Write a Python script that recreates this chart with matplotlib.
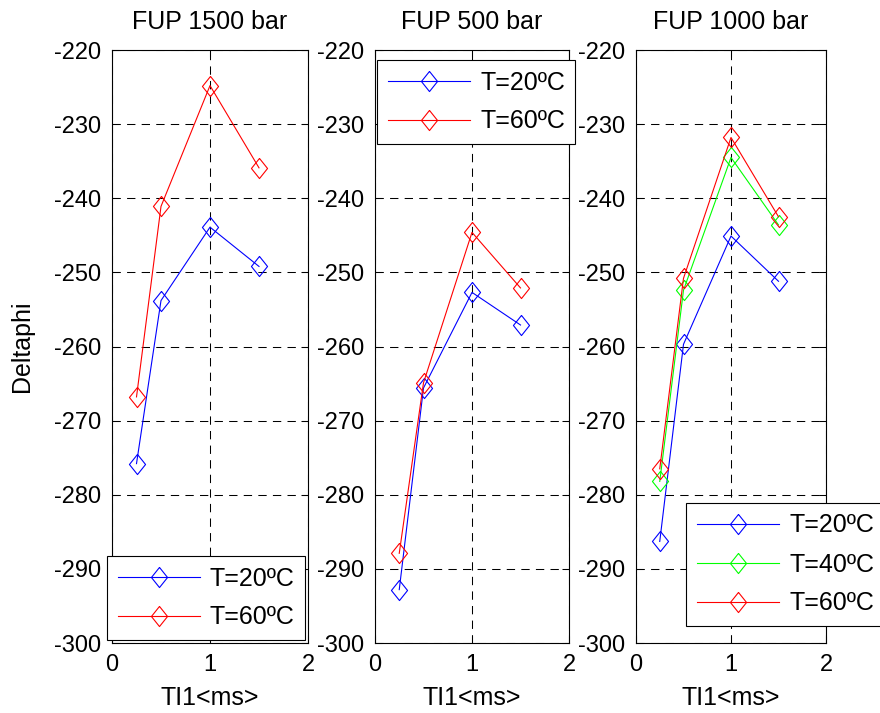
import matplotlib
matplotlib.use("Agg")
import matplotlib.pyplot as plt

plt.rcParams["font.family"] = ["Liberation Sans", "DejaVu Sans"]
plt.rcParams["axes.unicode_minus"] = False

# tiempos de inyeccion TI1 (ms)
ti1 = [0.25, 0.5, 1.0, 1.5]

titles = ["FUP 1500 bar", "FUP 500 bar", "FUP 1000 bar"]

# Deltaphi por presion y temperatura
fup1500_t20 = [-275.8, -253.8, -243.9, -249.2]
fup1500_t60 = [-266.8, -241.1, -224.8, -235.9]

fup500_t20 = [-292.8, -265.6, -252.7, -257.1]
fup500_t60 = [-287.9, -264.9, -244.6, -252.1]

fup1000_t20 = [-286.3, -259.7, -245.1, -251.2]
fup1000_t40 = [-278.2, -252.4, -234.5, -243.6]
fup1000_t60 = [-276.5, -250.8, -231.8, -242.5]

labels = {"t20": "T=20ºC", "t40": "T=40ºC", "t60": "T=60ºC"}
colors = {"t20": "#0000ff", "t40": "#00ff00", "t60": "#ff0000"}

panels = [
    {"t20": fup1500_t20, "t60": fup1500_t60},
    {"t20": fup500_t20, "t60": fup500_t60},
    {"t20": fup1000_t20, "t40": fup1000_t40, "t60": fup1000_t60},
]

W, H = 880, 713
axes_px = [(112, 308), (375, 569), (636, 826)]
top_px, bot_px = 50, 643
# esquina superior izquierda de cada leyenda (px)
legend_px = [(107, 556), (377, 60), (686, 503)]

FS = 17
FS_TXT = 18
diamond = [(0, 1), (0.8, 0), (0, -1), (-0.8, 0), (0, 1)]

fig = plt.figure(figsize=(W / 100, H / 100), dpi=100)

for i, (series, (x0, x1)) in enumerate(zip(panels, axes_px)):
    ax = fig.add_axes([x0 / W, 1 - bot_px / H, (x1 - x0) / W, (bot_px - top_px) / H])
    for key, vals in series.items():
        ax.plot(ti1, vals, color=colors[key], lw=0.8, marker=diamond,
                markersize=14.5, markerfacecolor="none",
                markeredgecolor=colors[key], markeredgewidth=0.8,
                label=labels[key])
    ax.set_xlim(0, 2)
    ax.set_ylim(-300, -220)
    ax.set_xticks([0, 1, 2])
    ax.set_yticks(range(-300, -219, 10))
    ax.grid(True, color="black", linestyle=(0, (8, 6)), linewidth=0.75)
    ax.tick_params(direction="in", top=True, right=True, length=5,
                   width=0.75, labelsize=FS, pad=8)
    for sp in ax.spines.values():
        sp.set_linewidth(0.8)
    ax.set_title(titles[i], fontsize=FS_TXT, pad=15)
    ax.set_xlabel("TI1<ms>", fontsize=FS_TXT, labelpad=7)
    if i == 0:
        ax.set_ylabel("Deltaphi", fontsize=FS_TXT, labelpad=14)

    lx, ly = legend_px[i]
    leg = ax.legend(loc="upper left", bbox_to_anchor=(lx / W, 1 - ly / H),
                    bbox_transform=fig.transFigure, fontsize=FS_TXT,
                    handlelength=3.3, handletextpad=0.4, labelspacing=0.6,
                    borderpad=0.42, borderaxespad=0, fancybox=False,
                    framealpha=1, edgecolor="black")
    leg.get_frame().set_linewidth(0.8)

fig.savefig("out.png", dpi=100)
